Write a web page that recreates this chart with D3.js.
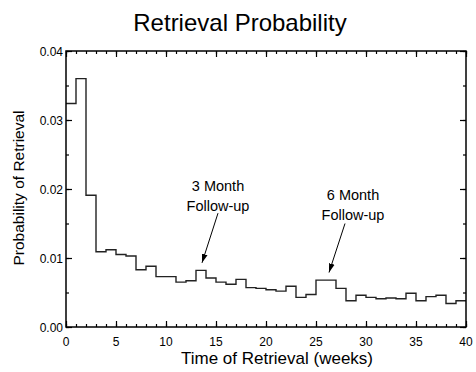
<!DOCTYPE html>
<html>
<head>
<meta charset="utf-8">
<script src="https://cdn.jsdelivr.net/npm/d3@7"></script>
<style>
  body { margin: 0; background: #fff; }
  text { font-family: "Liberation Sans", Arial, sans-serif; fill: #000; }
</style>
</head>
<body>
<div class="chart"></div>
<script>
// Data
const weeks = [0, 1, 2, 3, 4, 5, 6, 7, 8, 9, 10, 11, 12, 13, 14, 15, 16, 17, 18, 19,
  20, 21, 22, 23, 24, 25, 26, 27, 28, 29, 30, 31, 32, 33, 34, 35, 36, 37, 38, 39];
const probs = [0.0324, 0.0360, 0.0191, 0.0109, 0.0112, 0.0105, 0.0103, 0.0083, 0.0088, 0.0073,
  0.0073, 0.0065, 0.0067, 0.0082, 0.0071, 0.0065, 0.0062, 0.0069, 0.0057, 0.0056,
  0.0054, 0.0052, 0.0059, 0.0043, 0.0047, 0.0068, 0.0068, 0.0056, 0.0038, 0.0046,
  0.0043, 0.0041, 0.0042, 0.0041, 0.0049, 0.0038, 0.0044, 0.0046, 0.0034, 0.0038];
const xTicks = [0, 5, 10, 15, 20, 25, 30, 35, 40];
const yTicks = [0.00, 0.01, 0.02, 0.03, 0.04];
// annotations: text position and arrow (start -> tip) in data units
const notes = [
  { lines: ['3 Month', 'Follow-up'], x: 15.2, y: 0.0197, from: [15.2, 0.0165], to: [13.6, 0.0093] },
  { lines: ['6 Month', 'Follow-up'], x: 28.7, y: 0.0184, from: [27.9, 0.0150], to: [26.3, 0.0079] }
];

const W = 476, H = 372;
const m = { top: 51, right: 10, bottom: 45, left: 66 };
const cw = W - m.left - m.right;
const ch = H - m.top - m.bottom;

const svg = d3.select('.chart').append('svg').attr('width', W).attr('height', H);
const g = svg.append('g').attr('transform', `translate(${m.left},${m.top})`);

const x = d3.scaleLinear().domain([0, 40]).range([0, cw]);
const y = d3.scaleLinear().domain([0, 0.04]).range([ch, 0]);

svg.append('defs').append('marker')
  .attr('id', 'arr').attr('viewBox', '0 0 10 10').attr('refX', 10).attr('refY', 5)
  .attr('markerWidth', 9).attr('markerHeight', 9).attr('orient', 'auto')
  .attr('markerUnits', 'userSpaceOnUse')
  .append('path').attr('d', 'M0,1.8 L10,5 L0,8.2 Z').attr('fill', '#000');

// step line
const pts = weeks.map((w, i) => [w, probs[i]]);
pts.push([40, probs[probs.length - 1]]);
const stepLine = d3.line().x(d => x(d[0])).y(d => y(d[1])).curve(d3.curveStepAfter);
g.append('path').attr('d', stepLine(pts))
  .attr('fill', 'none').attr('stroke', '#222').attr('stroke-width', 1.4);

// axes: minor + major ticks on all four sides (ticks point inward)
const minorX = d3.range(0, 41, 1), minorY = d3.range(0, 0.0401, 0.005);
const axes = [
  [() => d3.axisBottom(x), `translate(0,${ch})`, minorX, xTicks],
  [() => d3.axisTop(x), 'translate(0,0)', minorX, xTicks],
  [() => d3.axisLeft(y), 'translate(0,0)', minorY, yTicks],
  [() => d3.axisRight(y), `translate(${cw},0)`, minorY, yTicks]
];
axes.forEach(([make, tr, minor, major]) => {
  [[minor, -3], [major, -6]].forEach(([vals, size]) => {
    const a = g.append('g').attr('transform', tr)
      .call(make().tickValues(vals).tickSize(size).tickSizeOuter(0).tickFormat(''));
    a.selectAll('.domain').remove();
    a.selectAll('line').attr('stroke', '#000').attr('stroke-width', 1.2);
  });
});
g.append('rect').attr('width', cw).attr('height', ch)
  .attr('fill', 'none').attr('stroke', '#000').attr('stroke-width', 1.5);

// tick labels
g.selectAll('.xl').data(xTicks).enter().append('text')
  .attr('x', d => x(d)).attr('y', ch + 19).attr('text-anchor', 'middle')
  .style('font-size', '12px').text(d => d);
g.selectAll('.yl').data(yTicks).enter().append('text')
  .attr('x', -3).attr('y', d => y(d) + 4.5).attr('text-anchor', 'end')
  .style('font-size', '12px').text(d => d.toFixed(2));

// titles
svg.append('text').attr('x', 240).attr('y', 31).attr('text-anchor', 'middle')
  .style('font-size', '24px').text('Retrieval Probability');
svg.append('text').attr('x', m.left + cw / 2 + 11).attr('y', 364).attr('text-anchor', 'middle')
  .style('font-size', '17px').text('Time of Retrieval (weeks)');
svg.append('text').attr('transform', `translate(24,188) rotate(-90)`)
  .attr('text-anchor', 'middle').style('font-size', '15.5px').text('Probability of Retrieval');

// annotations
notes.forEach(n => {
  const t = g.append('text').attr('text-anchor', 'middle').style('font-size', '14.5px');
  n.lines.forEach((s, i) => t.append('tspan').attr('x', x(n.x)).attr('y', y(n.y) + i * 20).text(s));
  g.append('line')
    .attr('x1', x(n.from[0])).attr('y1', y(n.from[1]))
    .attr('x2', x(n.to[0])).attr('y2', y(n.to[1]))
    .attr('stroke', '#000').attr('stroke-width', 1).attr('marker-end', 'url(#arr)');
});
</script>
</body>
</html>
